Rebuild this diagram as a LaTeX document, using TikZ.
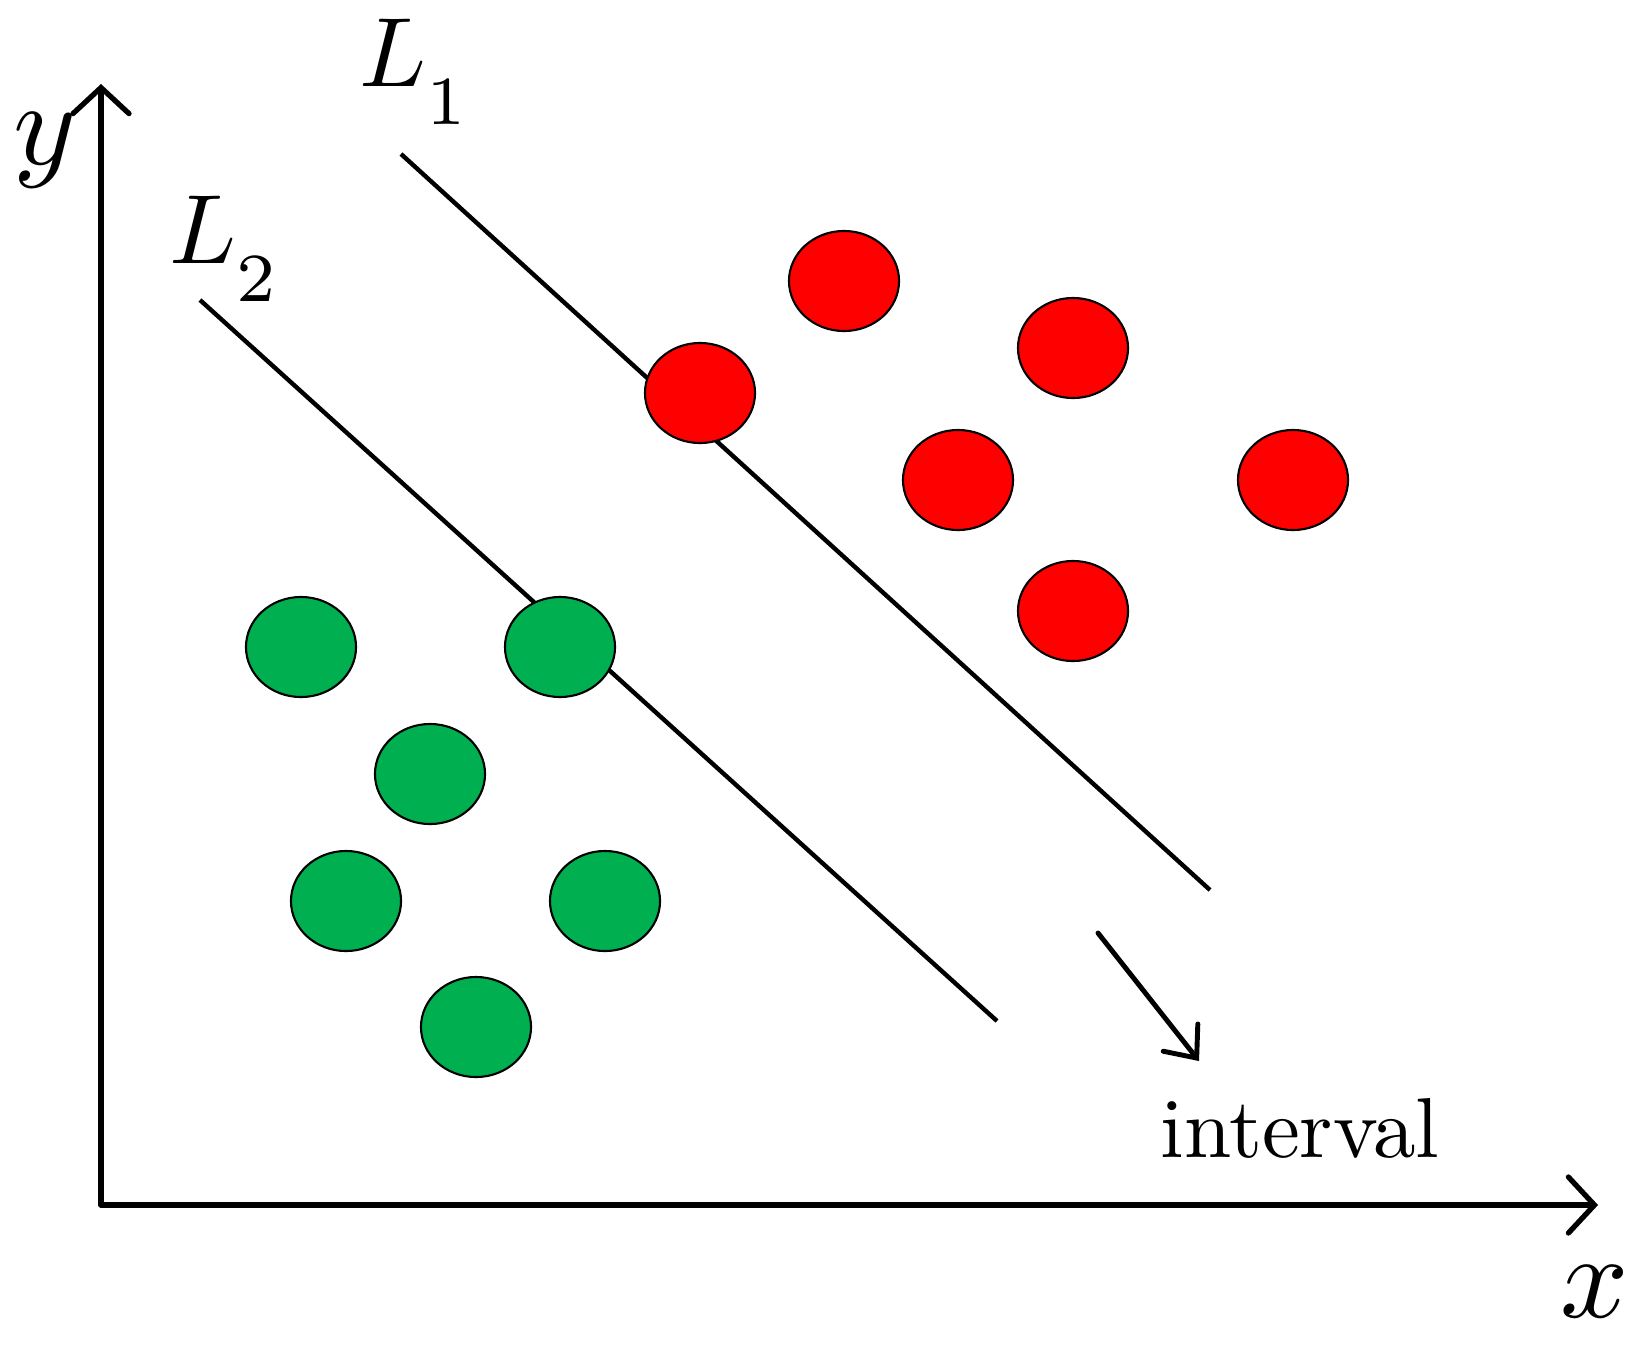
\documentclass[tikz,border=0pt]{standalone}
\usetikzlibrary{arrows.meta, shapes.geometric}
\definecolor{clsred}{HTML}{FF0000}
\definecolor{clsgreen}{HTML}{00B050}

\begin{document}
\begin{tikzpicture}[
  x=0.01cm, y=-0.01cm,
  dot/.style={ellipse, draw=black, line width=0.6pt, minimum width=1.1cm,
              minimum height=1.0cm, inner sep=0pt},
  rdot/.style={dot, fill=clsred},
  gdot/.style={dot, fill=clsgreen},
  axis/.style={line width=1.5pt, line cap=round,
               -{Straight Barb[length=2.6mm, width=5.6mm, line cap=round]}},
  sepline/.style={line width=1.25pt},
  lbl/.style={inner sep=0pt, scale=3.4}]
  \useasboundingbox (0,0) rectangle (1640,1354);
  % axes
  \coordinate (o) at (101,1205);
  \coordinate (ytip) at (101,84);
  \coordinate (xtip) at (1598,1205);
  \draw[axis] (o) -- (ytip);
  \draw[axis] (o) -- (xtip);
  \node[lbl] (ylab) at (45,150) {$y$};
  \node[lbl] (xlab) at (1595,1292) {$x$};
  % separating lines
  \coordinate (l1a) at (401,154);
  \coordinate (l1b) at (1210,890);
  \coordinate (l2a) at (200,300);
  \coordinate (l2b) at (997,1021);
  \draw[sepline] (l1a) -- (l1b);
  \draw[sepline] (l2a) -- (l2b);
  \node[lbl, anchor=base west, scale=2.8/3.4] (L1) at (358,86)
    {$L_{\raisebox{-0.55ex}{$\scriptstyle 1$}}$};
  \node[lbl, anchor=base west, scale=2.8/3.4] (L2) at (168,263)
    {$L_{\raisebox{-0.55ex}{$\scriptstyle 2$}}$};
  % interval
  \coordinate (ia) at (1098,933);
  \coordinate (ib) at (1199,1061);
  \draw[line width=1.4pt, line cap=round,
        -{Straight Barb[length=2.6mm, width=4.4mm, line cap=round]}] (ia) -- (ib);
  \node[inner sep=0pt, anchor=base, scale=2.42] (intv) at (1300,1157) {interval};
  % class points
  \node[rdot] (r1) at (844,281) {};
  \node[rdot] (r2) at (1073,348) {};
  \node[rdot] (r3) at (700,393) {};
  \node[rdot] (r4) at (958,480) {};
  \node[rdot] (r5) at (1293,480) {};
  \node[rdot] (r6) at (1073,611) {};
  \node[gdot] (g1) at (301,647) {};
  \node[gdot] (g2) at (560,647) {};
  \node[gdot] (g3) at (430,774) {};
  \node[gdot] (g4) at (346,901) {};
  \node[gdot] (g5) at (605,901) {};
  \node[gdot] (g6) at (476,1027) {};
\end{tikzpicture}
\end{document}
